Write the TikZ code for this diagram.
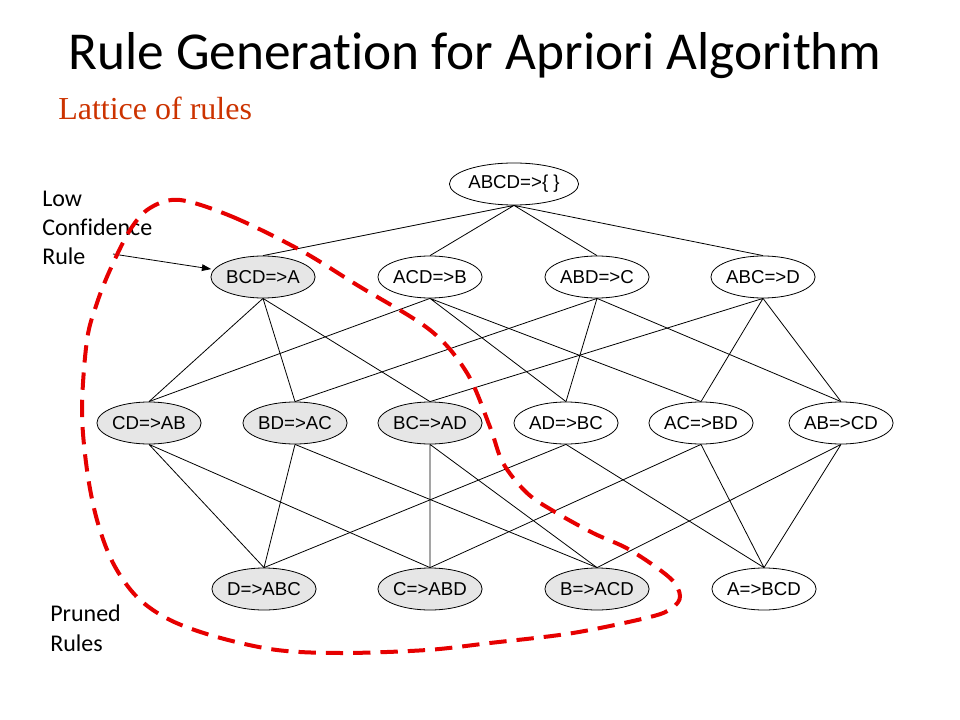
\documentclass[tikz,border=0pt]{standalone}
\usepackage{fontspec}
\usepackage{tikz}
\usetikzlibrary{shapes.geometric,arrows.meta}
\setmainfont{Liberation Sans}
\newfontfamily\titlefont[Ligatures=NoCommon]{Carlito}
\newfontfamily\subfont{Liberation Serif}
\definecolor{subred}{RGB}{204,51,0}
\definecolor{prunered}{RGB}{230,0,0}
\definecolor{shade}{RGB}{230,230,230}
\tikzstyle{rulebox} = [draw, ellipse, line width=0.6pt, inner sep=0pt, minimum width=78pt, minimum height=31.5pt, font=\fontsize{14}{16}\selectfont]
\tikzstyle{pruned} = [rulebox, fill=shade]
\tikzstyle{note} = [anchor=base west, align=left, inner sep=0pt, font=\titlefont\fontsize{18}{21.8}\selectfont]
\tikzstyle{pruneline} = [prunered, line width=3pt, dash pattern=on 13pt off 7.5pt]

\begin{document}
\begin{tikzpicture}[x=0.75pt, y=-0.75pt, >={Stealth[length=7pt, width=5pt, inset=0pt]}]
		\useasboundingbox (0,0) rectangle (960,720);
		% heading
		\node [anchor=base, inner sep=0pt, font=\titlefont\fontsize{40}{48}\selectfont] (title) at (475,70) {Rule Generation for Apriori Algorithm};
		\node [anchor=base west, inner sep=0pt, text=subred, font=\subfont\fontsize{24}{28}\selectfont] (sub) at (58,120) {Lattice of rules};

		% lattice
		\node [rulebox] (top) at (514,184) {ABCD=>\{ \}};
		\node [pruned] (bcd-a) at (263,277) {BCD=>A};
		\node [rulebox] (acd-b) at (430,277) {ACD=>B};
		\node [rulebox] (abd-c) at (597,277) {ABD=>C};
		\node [rulebox] (abc-d) at (763,277) {ABC=>D};
		\node [pruned] (cd-ab) at (149,423) {CD=>AB};
		\node [pruned] (bd-ac) at (295,423) {BD=>AC};
		\node [pruned] (bc-ad) at (430,423) {BC=>AD};
		\node [rulebox] (ad-bc) at (566,423) {AD=>BC};
		\node [rulebox] (ac-bd) at (701,423) {AC=>BD};
		\node [rulebox] (ab-cd) at (841,423) {AB=>CD};
		\node [pruned] (d-abc) at (264,589) {D=>ABC};
		\node [pruned] (c-abd) at (430,589) {C=>ABD};
		\node [pruned] (b-acd) at (597,589) {B=>ACD};
		\node [rulebox] (a-bcd) at (764,589) {A=>BCD};

		\draw [line width=0.6pt] (top.south) -- (bcd-a.north) (top.south) -- (acd-b.north) (top.south) -- (abd-c.north) (top.south) -- (abc-d.north);
		\draw [line width=0.6pt] (bcd-a.south) -- (cd-ab.north) (bcd-a.south) -- (bd-ac.north) (bcd-a.south) -- (bc-ad.north);
		\draw [line width=0.6pt] (acd-b.south) -- (cd-ab.north) (acd-b.south) -- (ad-bc.north) (acd-b.south) -- (ac-bd.north);
		\draw [line width=0.6pt] (abd-c.south) -- (bd-ac.north) (abd-c.south) -- (ad-bc.north) (abd-c.south) -- (ab-cd.north);
		\draw [line width=0.6pt] (abc-d.south) -- (bc-ad.north) (abc-d.south) -- (ac-bd.north) (abc-d.south) -- (ab-cd.north);
		\draw [line width=0.6pt] (cd-ab.south) -- (d-abc.north) (cd-ab.south) -- (c-abd.north);
		\draw [line width=0.6pt] (bd-ac.south) -- (d-abc.north) (bd-ac.south) -- (b-acd.north);
		\draw [line width=0.6pt] (bc-ad.south) -- (c-abd.north) (bc-ad.south) -- (b-acd.north);
		\draw [line width=0.6pt] (ad-bc.south) -- (d-abc.north) (ad-bc.south) -- (a-bcd.north);
		\draw [line width=0.6pt] (ac-bd.south) -- (c-abd.north) (ac-bd.south) -- (a-bcd.north);
		\draw [line width=0.6pt] (ab-cd.south) -- (b-acd.north) (ab-cd.south) -- (a-bcd.north);

		% notes (base = last line)
		\node [note] (lowconf) at (42,265) {Low\\Confidence\\Rule};
		\node [note] (prunednote) at (50,651) {Pruned\\Rules};
		\coordinate (lowtail) at (113,254);
		\draw [->, line width=0.6pt, shorten >=2pt] (lowtail) -- (bcd-a);

		% pruned region
		\draw [pruneline] plot [smooth cycle, tension=0.55] coordinates {(180,200) (233,217) (300,250) (357,285) (430,330) (467,373) (490,427) (503,463) (527,493) (555,512) (593,533) (630,550) (670,578) (680,596) (672,608) (650,617) (573,633) (490,643) (427,650) (343,653) (277,650) (217,637) (170,620) (137,597) (113,563) (97,520) (87,470) (82,410) (87,340) (97,303) (110,270) (130,230) (150,208)};
	\end{tikzpicture}
\end{document}
